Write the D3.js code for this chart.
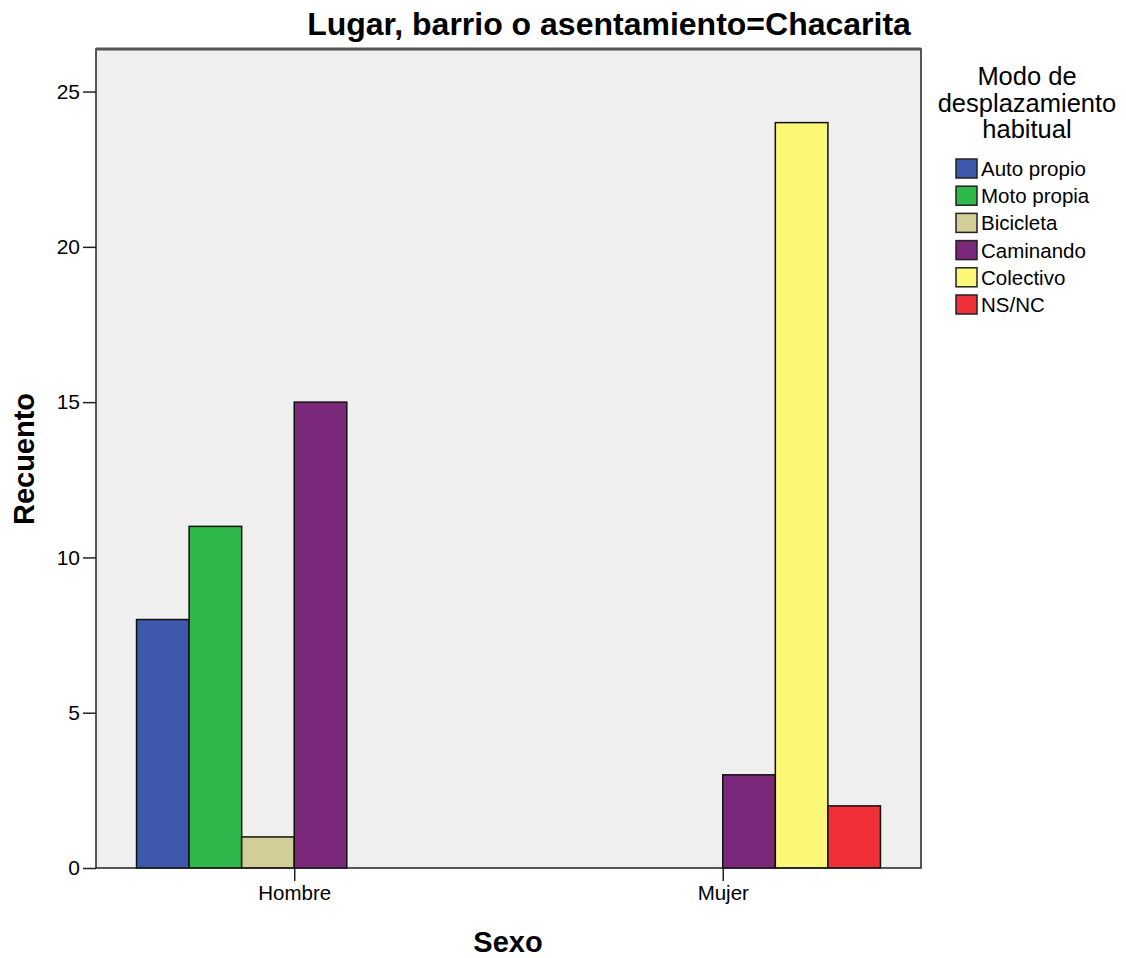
<!DOCTYPE html>
<html><head><meta charset="utf-8">
<script src="https://cdn.jsdelivr.net/npm/d3@7"></script>
<style>
body{margin:0;background:#fff;}
text{font-family:"Liberation Sans",Arial,sans-serif;fill:#000;}
</style></head>
<body>
<svg id="chart" width="1126" height="958"></svg>
<script>
const categories = ["Hombre", "Mujer"];
const seriesNames = ["Auto propio", "Moto propia", "Bicicleta", "Caminando", "Colectivo", "NS/NC"];
const seriesColors = ["#3e58ac", "#2fb84a", "#d3ce97", "#7b287b", "#fbf877", "#ef3038"];
const hombreValues = [8, 11, 1, 15, 0, 0];
const mujerValues = [0, 0, 0, 3, 24, 2];
const yTicks = [0, 5, 10, 15, 20, 25];
const titleText = "Lugar, barrio o asentamiento=Chacarita";
const legendTitle = ["Modo de", "desplazamiento", "habitual"];
const xLabel = "Sexo";
const yLabel = "Recuento";

const valuesByCat = {Hombre: hombreValues, Mujer: mujerValues};

const svg = d3.select("#chart");
const L = 96, R = 921, T = 49, B = 868;

const x = d3.scaleBand().domain(categories).range([L, R]).paddingInner(0.264).paddingOuter(0.0946);
const xs = d3.scaleBand().domain(seriesNames).range([0, x.bandwidth()]).padding(0);
const y = d3.scaleLinear().domain([0, 26.37]).range([B, T]);

svg.append("rect").attr("x", L).attr("y", T).attr("width", R - L).attr("height", B - T)
  .attr("fill", "#efefef");

// bars
const groups = svg.append("g").selectAll("g").data(categories).join("g")
  .attr("transform", d => `translate(${x(d)},0)`);
groups.selectAll("rect")
  .data(c => seriesNames.map((s, i) => ({s, i, v: valuesByCat[c][i]})).filter(d => d.v > 0))
  .join("rect")
  .attr("x", d => xs(d.s))
  .attr("y", d => y(d.v))
  .attr("width", xs.bandwidth())
  .attr("height", d => y(0) - y(d.v))
  .attr("fill", d => seriesColors[d.i])
  .attr("stroke", "#111")
  .attr("stroke-width", 1.5);

// frame
svg.append("rect").attr("x", L).attr("y", T).attr("width", R - L).attr("height", B - T)
  .attr("fill", "none").attr("stroke", "#222").attr("stroke-width", 1.5);
svg.append("line").attr("x1", L).attr("x2", R).attr("y1", T).attr("y2", T)
  .attr("stroke", "#555").attr("stroke-width", 3);

// axes
const yAxis = d3.axisLeft(y).tickValues(yTicks).tickSize(13).tickPadding(3).tickFormat(d3.format("d"));
const ya = svg.append("g").attr("transform", `translate(${L},0)`).call(yAxis);
ya.select(".domain").remove();
ya.selectAll("line").attr("stroke", "#222").attr("stroke-width", 1.5);
ya.selectAll("text").style("font-size", "21px").style("font-family", '"Liberation Sans","Arial",sans-serif').attr("fill", "#222");

const xPoint = d3.scalePoint().domain(categories).range([x("Hombre") + x.bandwidth() / 2, x("Mujer") + x.bandwidth() / 2]);
const xAxis = d3.axisBottom(xPoint).tickSize(13).tickPadding(4);
const xa = svg.append("g").attr("transform", `translate(0,${B})`).call(xAxis);
xa.select(".domain").remove();
xa.selectAll("line").attr("stroke", "#222").attr("stroke-width", 1.5);
xa.selectAll("text").style("font-size", "20.5px").style("font-family", '"Liberation Sans","Arial",sans-serif').attr("fill", "#222");

// title
svg.append("text").attr("x", 609).attr("y", 35).attr("text-anchor", "middle")
  .style("font-size", "32px").style("font-weight", "bold").text(titleText);

// axis labels
svg.append("text").attr("x", 508).attr("y", 952).attr("text-anchor", "middle")
  .style("font-size", "29px").style("font-weight", "bold").text(xLabel);
svg.append("text").attr("transform", "translate(34,459) rotate(-90)").attr("text-anchor", "middle")
  .style("font-size", "29px").style("font-weight", "bold").text(yLabel);

// legend
const lg = svg.append("g");
legendTitle.forEach((t, i) => {
  lg.append("text").attr("x", 1027).attr("y", 85 + i * 26.5).attr("text-anchor", "middle")
    .style("font-size", "25.5px").text(t);
});
const items = lg.selectAll("g.item").data(seriesNames).join("g").attr("class", "item")
  .attr("transform", (d, i) => `translate(956,${159 + i * 27.2})`);
items.append("rect").attr("width", 21).attr("height", 19)
  .attr("fill", (d, i) => seriesColors[i]).attr("stroke", "#222").attr("stroke-width", 1.5);
items.append("text").attr("x", 25).attr("y", 17).style("font-size", "20.5px")
  .style("font-family", '"Liberation Sans","Arial",sans-serif').text(d => d);
</script>
</body></html>
